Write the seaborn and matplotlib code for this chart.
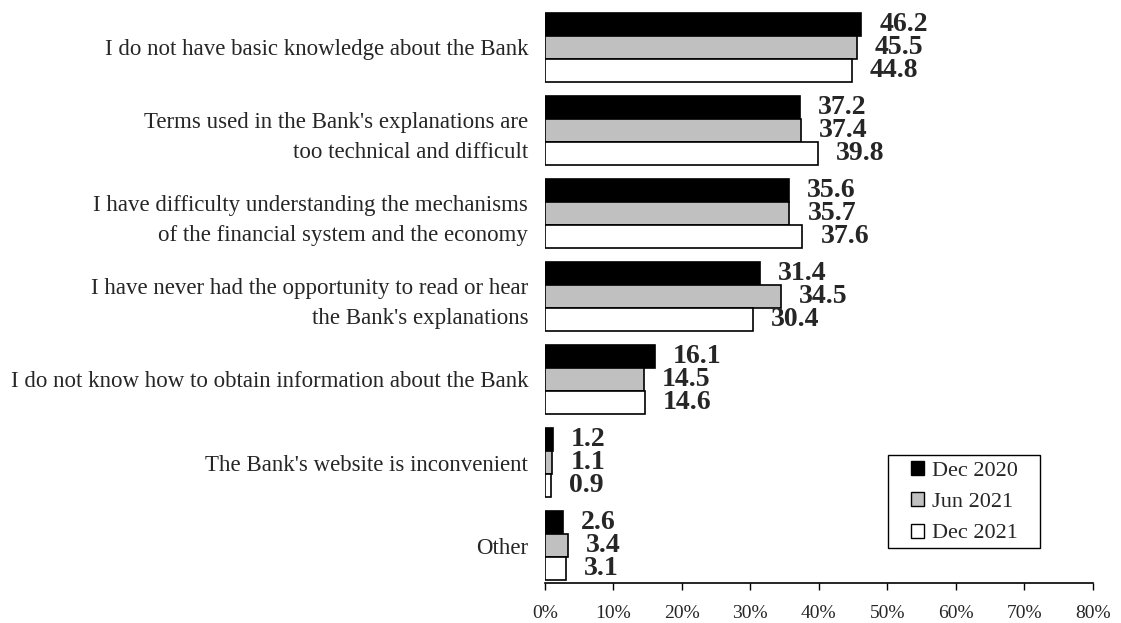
import matplotlib
matplotlib.use("Agg")
import matplotlib.pyplot as plt
import seaborn as sns
import pandas as pd
from matplotlib.ticker import FuncFormatter
from matplotlib.patches import Rectangle, Patch

categories = [
    "I do not have basic knowledge about the Bank",
    "Terms used in the Bank's explanations are\ntoo technical and difficult",
    "I have difficulty understanding the mechanisms\nof the financial system and the economy",
    "I have never had the opportunity to read or hear\nthe Bank's explanations",
    "I do not know how to obtain information about the Bank",
    "The Bank's website is inconvenient",
    "Other",
]
series = ["Dec 2020", "Jun 2021", "Dec 2021"]
dec2020 = [46.2, 37.2, 35.6, 31.4, 16.1, 1.2, 2.6]
jun2021 = [45.5, 37.4, 35.7, 34.5, 14.5, 1.1, 3.4]
dec2021 = [44.8, 39.8, 37.6, 30.4, 14.6, 0.9, 3.1]
xticks = [0, 10, 20, 30, 40, 50, 60, 70, 80]
colors = ["#000000", "#c0c0c0", "#ffffff"]

rows = []
for s, vals in zip(series, [dec2020, jun2021, dec2021]):
    for c, v in zip(categories, vals):
        rows.append({"category": c, "series": s, "value": v})
df = pd.DataFrame(rows)

sns.set_style("white")
plt.rcParams["font.family"] = ["Liberation Serif", "DejaVu Serif"]

fig = plt.figure(figsize=(11.21, 6.23), dpi=100)
ax = fig.add_axes([0.486, 0.0642, 0.489, 0.920])

palette = dict(zip(series, colors))
sns.barplot(data=df, y="category", x="value", hue="series", order=categories,
            hue_order=series, palette=palette, orient="h", width=0.83,
            edgecolor="black", linewidth=1.2, saturation=1, ax=ax, legend=False)

for cont in ax.containers:
    ax.bar_label(cont, fmt="%.1f", padding=13, fontsize=20, fontweight="bold")

ax.set_xlim(0, 80)
ax.set_ylim(6.45, -0.45)
ax.set_xticks(xticks)
ax.xaxis.set_major_formatter(FuncFormatter(lambda v, p: f"{v:.0f}%"))
ax.tick_params(axis="x", direction="out", length=5, width=1, labelsize=14, pad=11,
               color="black", bottom=True)
ax.tick_params(axis="y", length=0, pad=12)
ax.set_yticks(range(len(categories)))
ax.set_yticklabels(categories, fontsize=16.5, ha="right", multialignment="right",
                   linespacing=1.55)
ax.set_xlabel("")
ax.set_ylabel("")
for side in ["top", "right", "left"]:
    ax.spines[side].set_visible(False)
ax.spines["bottom"].set_color("black")
ax.spines["bottom"].set_linewidth(1.2)

handles = [Patch(facecolor=c, edgecolor="black", linewidth=1.0) for c in colors]
leg = ax.legend(handles, series, loc="center left",
                bbox_to_anchor=(911 / 1121, 1 - 502 / 623), bbox_transform=fig.transFigure,
                frameon=False, fontsize=16, handlelength=0.6, handleheight=0.6,
                handletextpad=0.35, borderpad=0, labelspacing=0.52, borderaxespad=0)

fig.canvas.draw()
bb = leg.get_window_extent()
inv = fig.transFigure.inverted()
(x0, y0), (x1, y1) = inv.transform([(bb.x0 - 23, bb.y0 - 5), (bb.x1 + 22, bb.y1 + 6)])
fig.patches.append(Rectangle((x0, y0), x1 - x0, y1 - y0, transform=fig.transFigure,
                             facecolor="none", edgecolor="black", linewidth=1.0))

fig.savefig("out.png", dpi=100)
